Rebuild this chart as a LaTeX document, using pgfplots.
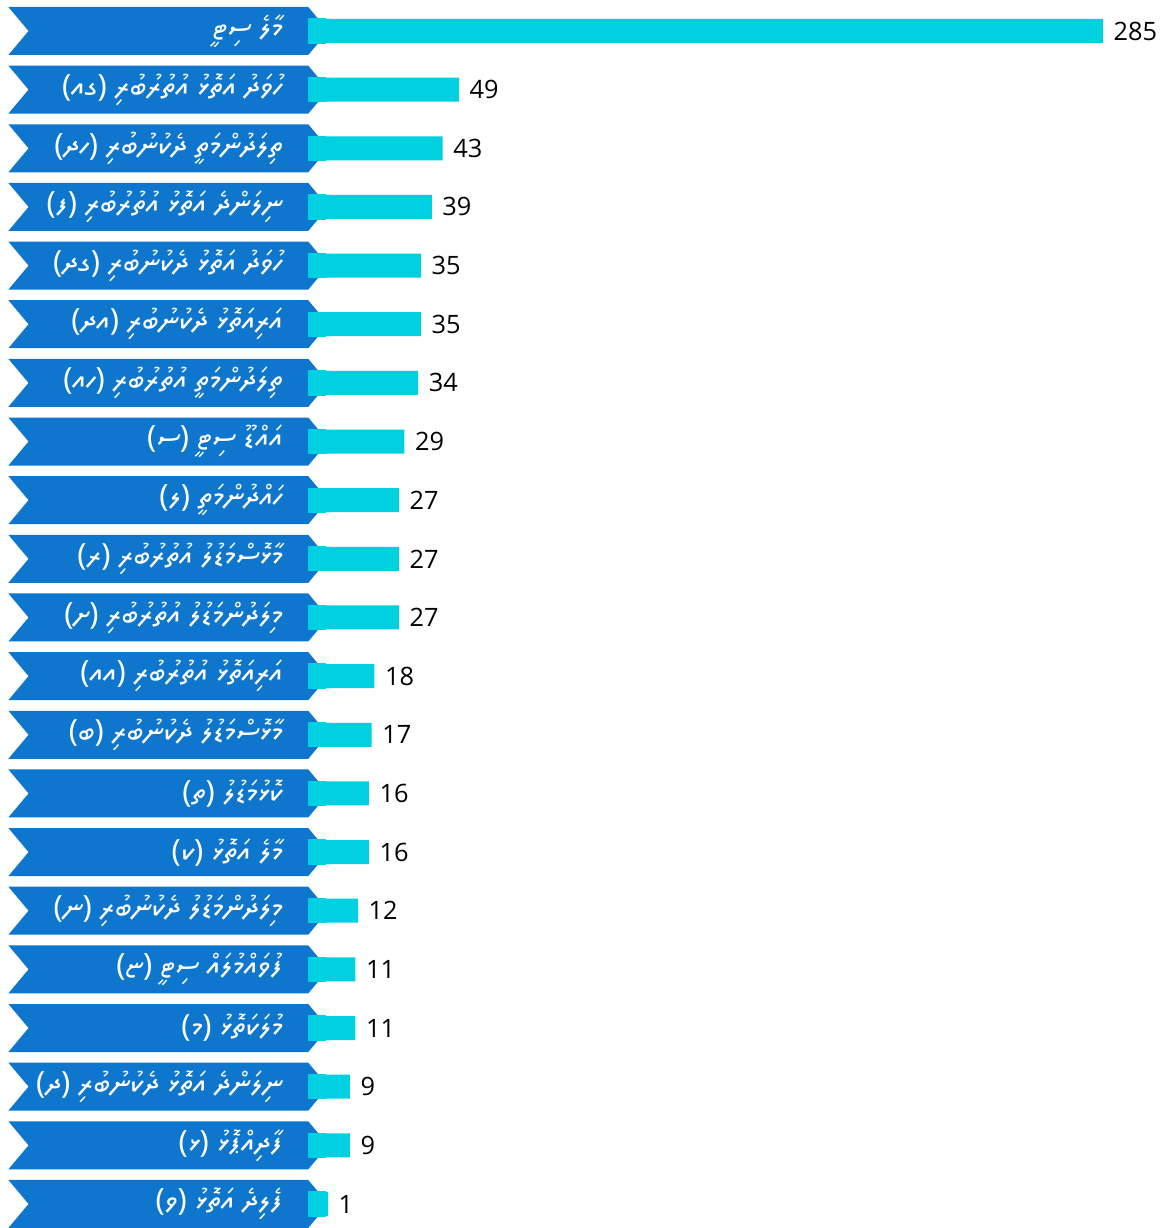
\documentclass[border=0pt]{standalone}
\usepackage{pgfplots}
\pgfplotsset{compat=1.18}
\usepackage{fontspec}
\setmainfont{Open Sans}
\newfontfamily\thaana[Script=Thaana]{Noto Sans Thaana}
\TeXXeTstate=1
\usetikzlibrary{shapes.symbols}
\definecolor{arrowblue}{RGB}{14,118,204}
\definecolor{barcyan}{RGB}{0,208,224}
\newcommand{\dv}[1]{\makebox[68.5pt][r]{\thaana\beginR #1\endR}}

\begin{document}
\begin{tikzpicture}
\begin{axis}[
    scale only axis,
    width=348pt, height=368.4pt,
    xmin=-119.1, xmax=306,
    ymin=-0.5286, ymax=20.41,
    y dir=reverse,
    xbar, bar width=7.2pt, bar shift=0pt,
    axis line style={draw=none},
    major tick length=0pt,
    xtick=\empty,
    ytick={0,...,20},
    yticklabels={
        {\dv{މާލެ ސިޓީ}},
        {\dv{ހުވަދު އަތޮޅު އުތުރުބުރި (ގއ)}},
        {\dv{ތިލަދުންމަތީ ދެކުނުބުރި (ހދ)}},
        {\dv{ނިލަންދެ އަތޮޅު އުތުރުބުރި (ފ)}},
        {\dv{ހުވަދު އަތޮޅު ދެކުނުބުރި (ގދ)}},
        {\dv{އަރިއަތޮޅު ދެކުނުބުރި (އދ)}},
        {\dv{ތިލަދުންމަތީ އުތުރުބުރި (ހއ)}},
        {\dv{އައްޑޫ ސިޓީ (ސ)}},
        {\dv{ހައްދުންމަތީ (ލ)}},
        {\dv{މާޅޮސްމަޑުލު އުތުރުބުރި (ރ)}},
        {\dv{މިލަދުންމަޑުލު އުތުރުބުރި (ށ)}},
        {\dv{އަރިއަތޮޅު އުތުރުބުރި (އއ)}},
        {\dv{މާޅޮސްމަޑުލު ދެކުނުބުރި (ބ)}},
        {\dv{ކޮޅުމަޑުލު (ތ)}},
        {\dv{މާލެ އަތޮޅު (ކ)}},
        {\dv{މިލަދުންމަޑުލު ދެކުނުބުރި (ނ)}},
        {\dv{ފުވައްމުލައް ސިޓީ (ޏ)}},
        {\dv{މުލަކަތޮޅު (މ)}},
        {\dv{ނިލަންދެ އަތޮޅު ދެކުނުބުރި (ދ)}},
        {\dv{ފާދިއްޕޮޅު (ޅ)}},
        {\dv{ފެލިދެ އަތޮޅު (ވ)}}
    },
    yticklabel style={
        signal, signal to=east, signal from=west,
        signal pointer angle=100,
        fill=arrowblue, text=white,
        minimum width=96pt, minimum height=14.4pt,
        inner sep=0pt, font=\fontsize{9.2}{10}\selectfont,
        anchor=west, xshift=8.2pt,
    },
    /pgf/number format/assume math mode=true,
    clip=false,
]
% short piece of each bar that runs under the arrow tip
\addplot[fill=barcyan, draw=barcyan, line width=0.4pt, forget plot] coordinates {
    (-6,0)(-6,1)(-6,2)(-6,3)(-6,4)(-6,5)(-6,6)(-6,7)(-6,8)(-6,9)(-6,10)
    (-6,11)(-6,12)(-6,13)(-6,14)(-6,15)(-6,16)(-6,17)(-6,18)(-6,19)(-6,20)
};
\addplot[fill=barcyan, draw=none,
    point meta=x, nodes near coords,
    every node near coord/.append style={
        anchor=west, inner sep=0pt, xshift=3pt,
        font=\fontsize{7.6}{9}\selectfont, text=black},
] coordinates {
    (285,0)(49,1)(43,2)(39,3)(35,4)(35,5)(34,6)(29,7)(27,8)(27,9)(27,10)
    (18,11)(17,12)(16,13)(16,14)(12,15)(11,16)(11,17)(9,18)(9,19)(1,20)
};
\end{axis}
\end{tikzpicture}
\end{document}
